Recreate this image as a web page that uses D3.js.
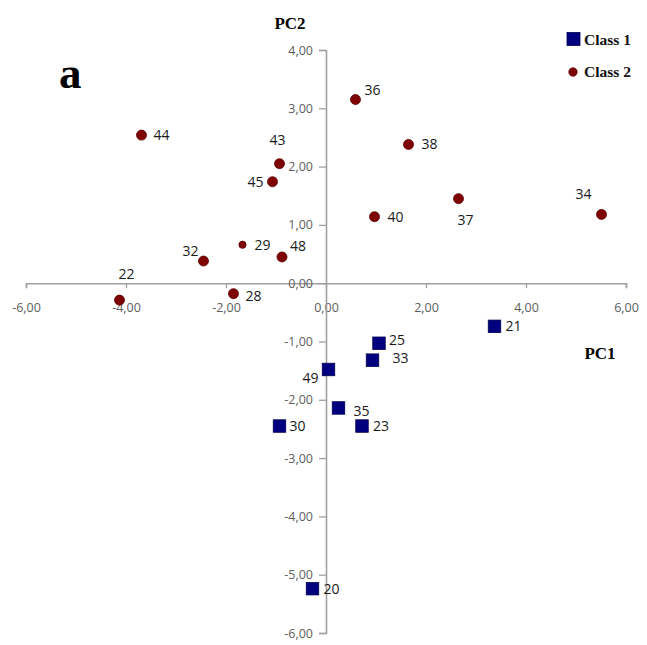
<!DOCTYPE html>
<html><head><meta charset="utf-8">
<script src="https://cdn.jsdelivr.net/npm/d3@7"></script>
<style>body{margin:0;background:#fff}</style>
</head><body>
<svg id="chart" width="647" height="645"></svg>
<script>
// ---- data ----
const class1Labels = ["21","25","33","49","35","30","23","20"];
const class1PC1 = [3.37, 1.06, 0.93, 0.05, 0.25, -0.93, 0.72, -0.27];
const class1PC2 = [-0.74, -1.03, -1.32, -1.48, -2.14, -2.45, -2.45, -5.24];

const class2Labels = ["44","36","38","43","45","40","37","34","32","29","48","22","28"];
const class2PC1 = [-3.69, 0.59, 1.65, -0.93, -1.07, 0.97, 2.65, 5.51, -2.45, -1.67, -0.88, -4.13, -1.85];
const class2PC2 = [2.54, 3.15, 2.38, 2.05, 1.74, 1.14, 1.45, 1.18, 0.38, 0.66, 0.45, -0.29, -0.18];

const xTicks = [-6, -4, -2, 0, 2, 4, 6];
const yTicks = [-6, -5, -4, -3, -2, -1, 0, 1, 2, 3, 4];
const seriesNames = ["Class 1", "Class 2"];

// ---- label placement (layout, separate from data) ----
const labelOffset = {
  "44":[12,5,"start"], "36":[9,-5,"start"], "38":[13,5,"start"], "43":[-2,-19,"middle"],
  "45":[-9,5,"end"], "40":[13,5,"start"], "37":[-1,26,"start"], "34":[-10,-15,"end"],
  "32":[-5,-5,"end"], "29":[12,5,"start"], "48":[8,-6,"start"], "22":[7,-21,"middle"],
  "28":[12,7,"start"],
  "21":[11,5,"start"], "25":[10,2,"start"], "33":[20,3,"start"], "49":[-10,14,"end"],
  "35":[15,8,"start"], "30":[10,5,"start"], "23":[11,5,"start"], "20":[11,5,"start"]
};

const svg = d3.select("#chart");
const x = d3.scaleLinear().domain([-6, 6]).range([26, 626]);
const y = d3.scaleLinear().domain([-6, 4]).range([633, 50]);
const fmt = v => d3.format(".2f")(v).replace(".", ",").replace("−", "-");

// x axis at y=0
const xAxis = svg.append("g").attr("transform", `translate(0,${y(0)})`)
  .call(d3.axisBottom(x).tickValues(xTicks).tickSize(5).tickPadding(15).tickFormat(fmt));
// y axis at x=0
const yAxis = svg.append("g").attr("transform", `translate(${x(0)},0)`)
  .call(d3.axisLeft(y).tickValues(yTicks).tickSize(7).tickPadding(6).tickFormat(fmt));
[xAxis, yAxis].forEach(g => {
  g.select(".domain").attr("stroke", "#a0a0a0").attr("stroke-width", 1.6);
  g.selectAll(".tick line").attr("stroke", "#a0a0a0").attr("stroke-width", 1.3);
  g.selectAll(".tick text").attr("fill", "#5e5e5e").attr("font-family", "Open Sans, sans-serif").attr("font-size", 12.5);
});

const navy = "#00007f", dred = "#7f0000";

// class 2 circles
const c2 = class2Labels.map((l, i) => ({l, px: class2PC1[i], py: class2PC2[i]}));
svg.append("g").selectAll("circle").data(c2).join("circle")
  .attr("cx", d => x(d.px)).attr("cy", d => y(d.py))
  .attr("r", d => d.l === "29" ? 3.6 : 5)
  .attr("fill", dred).attr("stroke", "#5a0000").attr("stroke-width", 0.8);

// class 1 squares
const c1 = class1Labels.map((l, i) => ({l, px: class1PC1[i], py: class1PC2[i]}));
const sq = 12.5;
svg.append("g").selectAll("rect").data(c1).join("rect")
  .attr("x", d => x(d.px) - sq/2).attr("y", d => y(d.py) - sq/2)
  .attr("width", sq).attr("height", sq)
  .attr("fill", navy).attr("stroke", "#000050").attr("stroke-width", 0.8);

// point labels
svg.append("g").selectAll("text").data(c1.concat(c2)).join("text")
  .attr("x", d => x(d.px) + labelOffset[d.l][0])
  .attr("y", d => y(d.py) + labelOffset[d.l][1])
  .attr("text-anchor", d => labelOffset[d.l][2])
  .attr("font-family", "Open Sans, sans-serif").attr("font-size", 14)
  .attr("fill", "#1a1a1a").text(d => d.l);

// axis titles & panel letter
const serif = "Liberation Serif, Times New Roman, serif";
svg.append("text").attr("x", 290).attr("y", 29).attr("text-anchor", "middle")
  .attr("font-family", serif).attr("font-weight", "bold").attr("font-size", 17).text("PC2");
svg.append("text").attr("x", 600).attr("y", 359).attr("text-anchor", "middle")
  .attr("font-family", serif).attr("font-weight", "bold").attr("font-size", 17).text("PC1");
svg.append("text").attr("x", 59).attr("y", 88)
  .attr("font-family", serif).attr("font-weight", "bold").attr("font-size", 45).text("a");

// legend
const lg = svg.append("g");
lg.append("rect").attr("x", 567).attr("y", 32.5).attr("width", 13).attr("height", 13)
  .attr("fill", navy).attr("stroke", "#000050").attr("stroke-width", 0.8);
lg.append("circle").attr("cx", 573).attr("cy", 72).attr("r", 4.2)
  .attr("fill", dred).attr("stroke", "#5a0000").attr("stroke-width", 0.8);
lg.selectAll("text").data(seriesNames).join("text")
  .attr("x", 584).attr("y", (d, i) => i === 0 ? 45 : 77)
  .attr("font-family", serif).attr("font-weight", "bold").attr("font-size", 15.5)
  .attr("fill", "#111").text(d => d);
</script>
</body></html>
